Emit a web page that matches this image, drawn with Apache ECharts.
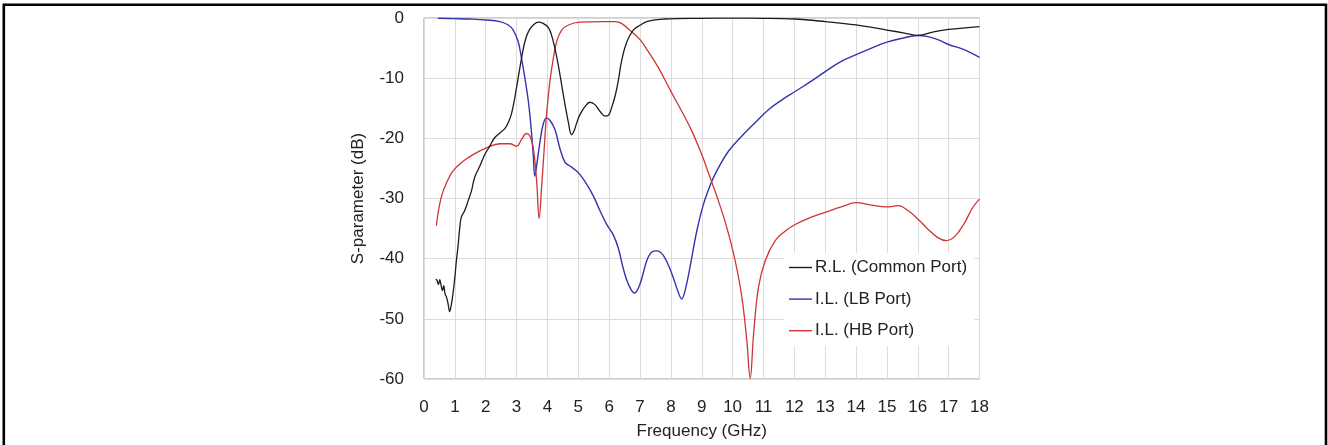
<!DOCTYPE html>
<html>
<head>
<meta charset="utf-8">
<script src="https://cdn.jsdelivr.net/npm/echarts@6/dist/echarts.min.js"></script>
<style>
  html, body { margin: 0; padding: 0; background: #ffffff; }
  #chart { width: 1328px; height: 445px; }
</style>
</head>
<body>
<div id="chart"></div>
<script>
// ---- Data ----
var xTicks = [0, 1, 2, 3, 4, 5, 6, 7, 8, 9, 10, 11, 12, 13, 14, 15, 16, 17, 18];
var yTicks = [0, -10, -20, -30, -40, -50, -60];

var seriesNames = ['R.L. (Common Port)', 'I.L. (LB Port)', 'I.L. (HB Port)'];

var rlFreq = [0.38, 0.42, 0.47, 0.51, 0.55, 0.6, 0.64, 0.68, 0.73, 0.78, 0.83, 0.89, 0.94, 1.0, 1.05, 1.1, 1.16, 1.21, 1.32, 1.43, 1.54, 1.64, 1.81, 1.97, 2.13, 2.29, 2.46, 2.62, 2.73, 2.84, 2.94, 3.05, 3.16, 3.27, 3.38, 3.54, 3.7, 3.86, 4.03, 4.13, 4.24, 4.35, 4.46, 4.57, 4.68, 4.78, 4.86, 4.95, 5.05, 5.22, 5.38, 5.54, 5.7, 5.87, 5.97, 6.08, 6.2, 6.3, 6.4, 6.57, 6.78, 7.0, 7.27, 7.8, 8.9, 10, 11, 12, 13, 14, 15, 15.57, 16, 16.55, 17, 18];
var rlDb = [-43.4, -43.6, -44.3, -43.5, -44.3, -45.3, -44.5, -45.8, -46.4, -47.5, -48.8, -47.5, -45.8, -43.1, -40.3, -38.1, -34.8, -33.1, -32.0, -30.4, -28.7, -26.5, -24.6, -22.7, -21.3, -19.9, -19.1, -18.4, -17.4, -15.8, -13.3, -10.0, -6.7, -3.9, -2.3, -1.16, -0.7, -0.9, -1.6, -2.8, -5.0, -7.8, -11.1, -14.4, -17.4, -19.4, -18.8, -17.4, -16.1, -14.7, -14.0, -14.4, -15.5, -16.3, -16.2, -14.9, -12.8, -10.3, -7.2, -4.0, -2.0, -1.2, -0.5, -0.17, -0.05, -0.03, -0.05, -0.17, -0.6, -1.16, -2.0, -2.5, -2.9, -2.26, -1.9, -1.43];

var lbFreq = [0.45, 1.0, 1.48, 2.02, 2.46, 2.73, 2.89, 3.05, 3.16, 3.27, 3.38, 3.48, 3.54, 3.59, 3.67, 3.76, 3.86, 3.97, 4.08, 4.24, 4.4, 4.57, 4.73, 4.89, 5.05, 5.27, 5.49, 5.7, 5.92, 6.13, 6.3, 6.45, 6.62, 6.82, 7.0, 7.22, 7.38, 7.54, 7.76, 8.03, 8.24, 8.35, 8.46, 8.62, 8.84, 9.06, 9.33, 9.54, 9.87, 10.3, 10.73, 11.17, 11.6, 12.0, 12.55, 13, 13.52, 14, 14.5, 15, 15.46, 16, 16.33, 16.65, 17, 17.52, 18];
var lbDb = [-0.05, -0.1, -0.17, -0.33, -0.6, -1.16, -2.0, -3.9, -6.7, -10, -13.8, -18.8, -22.7, -26.3, -23.8, -20.5, -17.7, -16.6, -17.0, -18.5, -21.6, -24.0, -24.6, -25.2, -26.0, -27.6, -29.6, -32.0, -34.3, -36.0, -38.3, -41.5, -44.2, -45.7, -44.2, -40.3, -38.9, -38.7, -39.5, -42.5, -45.6, -46.7, -45.3, -41.4, -35.4, -30.9, -27.1, -24.9, -22.1, -19.6, -17.4, -15.2, -13.6, -12.3, -10.5, -8.9, -7.2, -6.1, -5.0, -4.0, -3.4, -2.9, -3.1, -3.6, -4.4, -5.3, -6.56];

var hbFreq = [0.4, 0.47, 0.57, 0.73, 0.94, 1.27, 1.59, 2.02, 2.46, 2.78, 3.0, 3.16, 3.32, 3.43, 3.54, 3.65, 3.73, 3.81, 3.89, 3.97, 4.08, 4.19, 4.3, 4.46, 4.68, 5.05, 5.81, 6.2, 6.4, 6.73, 7.0, 7.27, 7.6, 7.97, 8.35, 8.68, 9.0, 9.27, 9.54, 9.81, 10.08, 10.3, 10.46, 10.57, 10.68, 10.84, 11.06, 11.38, 11.71, 12.0, 12.55, 13, 13.52, 14, 14.5, 15, 15.36, 15.68, 16, 16.33, 16.65, 16.92, 17.2, 17.52, 17.78, 18];
var hbDb = [-34.5, -32, -29.6, -27.4, -25.4, -23.8, -22.7, -21.6, -20.9, -20.9, -21.3, -20.2, -19.2, -19.6, -21.6, -27.1, -33.3, -28.2, -22.1, -16.1, -10.5, -6.7, -3.9, -2.0, -1.16, -0.7, -0.6, -0.6, -0.9, -2.3, -3.6, -5.6, -8.3, -11.9, -15.5, -18.8, -22.7, -26.5, -30.4, -34.8, -40.3, -46.4, -53.6, -59.9, -52.5, -44.7, -40.3, -37.0, -35.4, -34.4, -33.1, -32.3, -31.4, -30.7, -31.1, -31.4, -31.2, -32.0, -33.4, -35.1, -36.5, -37.0, -36.3, -34.0, -31.5, -30.1];

function pairs(xs, ys) {
  var out = [];
  for (var i = 0; i < xs.length; i++) out.push([xs[i], ys[i]]);
  return out;
}

var FONT = 'Liberation Sans, Arial, sans-serif';
var TXT = '#222222';
var FS = 17;
var chart = echarts.init(document.getElementById('chart'), null, { renderer: 'canvas' });

var lineIcon = 'path://M0,0 H23 V1.4 H0 Z';

var option = {
  animation: false,
  backgroundColor: '#ffffff',
  textStyle: { fontFamily: FONT },
  grid: {
    left: 424, top: 18, right: 348.5, bottom: 64,
    show: true, borderColor: '#9a9a9a', borderWidth: 1, backgroundColor: 'transparent'
  },
  xAxis: {
    type: 'value', min: xTicks[0], max: xTicks[xTicks.length - 1], interval: 1,
    name: 'Frequency (GHz)', nameLocation: 'middle', nameGap: 44,
    nameTextStyle: { fontSize: FS, color: TXT, fontFamily: FONT },
    axisLine: { show: false },
    axisTick: { show: false },
    axisLabel: { fontSize: FS, color: TXT, margin: 20, fontFamily: FONT },
    splitLine: { show: true, lineStyle: { color: '#dcdcdc', width: 1 } }
  },
  yAxis: {
    type: 'value', min: yTicks[yTicks.length - 1], max: yTicks[0], interval: 10,
    name: 'S-parameter (dB)', nameLocation: 'middle', nameGap: 57, nameRotate: 90,
    nameTextStyle: { fontSize: FS, color: TXT, fontFamily: FONT },
    axisLine: { show: false },
    axisTick: { show: false },
    axisLabel: { fontSize: FS, color: TXT, margin: 20, fontFamily: FONT },
    splitLine: { show: true, lineStyle: { color: '#dcdcdc', width: 1 } }
  },
  legend: {
    orient: 'vertical', left: 784, top: 253,
    padding: [6, 7, 7, 5],
    backgroundColor: '#ffffff',
    itemWidth: 23, itemHeight: 14, itemGap: 14.6,
    symbolKeepAspect: true,
    icon: lineIcon,
    textStyle: { fontSize: FS, color: TXT, fontFamily: FONT, padding: [0, 0, 0, -2] },
    data: seriesNames
  },
  series: [
    {
      name: seriesNames[0], type: 'line', data: pairs(rlFreq, rlDb),
      symbol: 'none', smooth: 0.4,
      lineStyle: { color: '#1c1c1c', width: 1.3 }, itemStyle: { color: '#1c1c1c' }, z: 3
    },
    {
      name: seriesNames[1], type: 'line', data: pairs(lbFreq, lbDb),
      symbol: 'none', smooth: 0.4,
      lineStyle: { color: '#3434ae', width: 1.4 }, itemStyle: { color: '#3434ae' }, z: 2
    },
    {
      name: seriesNames[2], type: 'line', data: pairs(hbFreq, hbDb),
      symbol: 'none', smooth: 0.4,
      lineStyle: { color: '#cf3434', width: 1.3 }, itemStyle: { color: '#cf3434' }, z: 2
    }
  ],
  graphic: [
    {
      type: 'polyline', silent: true, z: 100,
      shape: { points: [[3.8, 445], [3.8, 4.8], [1326, 4.8], [1326, 445]] },
      style: { stroke: '#000000', lineWidth: 2.6, fill: null }
    }
  ]
};

chart.setOption(option);
</script>
</body>
</html>
